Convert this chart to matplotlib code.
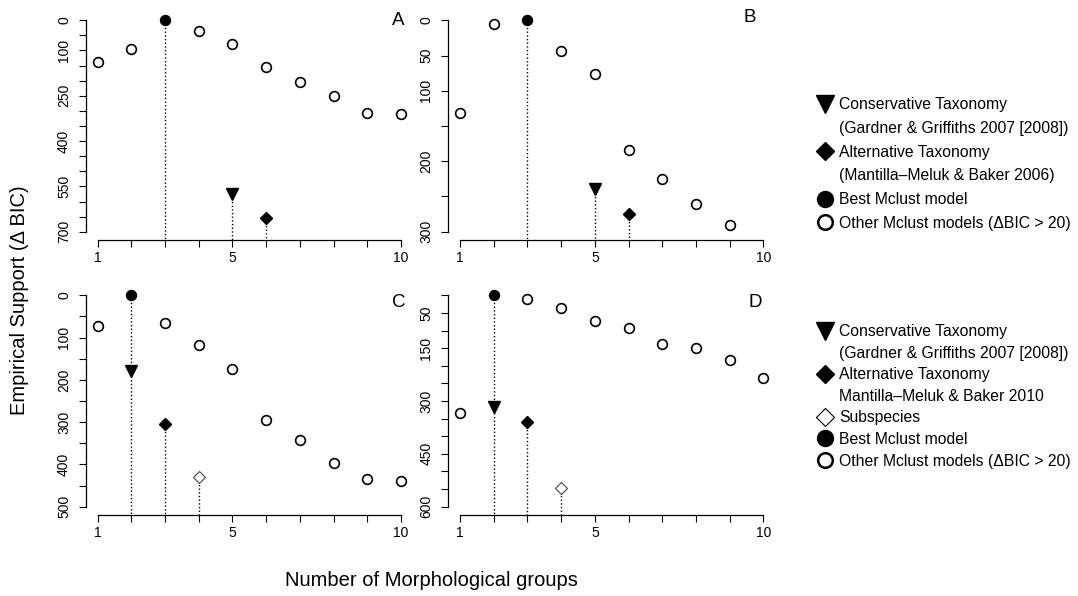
import matplotlib
matplotlib.use('Agg')
import matplotlib.pyplot as plt
from matplotlib.lines import Line2D

plt.rcParams['font.family'] = ['Liberation Sans', 'DejaVu Sans']

# x = number of morphological groups, y = delta BIC
a_other_x = [1, 2, 4, 5, 6, 7, 8, 9, 10]
a_other_y = [138, 95, 35, 79, 156, 204, 252, 307, 310]
a_best = (3, 0)
a_cons = (5, 575)
a_alt = (6, 654)

b_other_x = [1, 2, 4, 5, 6, 7, 8, 9]
b_other_y = [132, 6, 43, 76, 184, 225, 260, 290]
b_best = (3, 0)
b_cons = (5, 240)
b_alt = (6, 275)

c_other_x = [1, 3, 4, 5, 6, 7, 8, 9, 10]
c_other_y = [73, 66, 117, 175, 294, 342, 396, 434, 439]
c_best = (2, 0)
c_cons = (2, 179)
c_alt = (3, 304)
c_subsp = (4, 430)

d_other_x = [1, 3, 4, 5, 6, 7, 8, 9, 10]
d_other_y = [333, 12, 35, 72, 94, 137, 151, 185, 235]
d_best = (2, 0)
d_cons = (2, 316)
d_alt = (3, 360)
d_subsp = (4, 548)

y_max = {'A': 700, 'B': 300, 'C': 500, 'D': 600}
y_labels = {'A': [0, 100, 250, 400, 550, 700],
            'B': [0, 50, 100, 200, 300],
            'C': [0, 100, 200, 300, 400, 500],
            'D': [50, 150, 300, 450, 600]}
x_labels = [1, 5, 10]

legend_top = ['Conservative Taxonomy', '(Gardner & Griffiths 2007 [2008])',
              'Alternative Taxonomy', '(Mantilla\u2013Meluk & Baker 2006)',
              'Best Mclust model', 'Other Mclust models (\u0394BIC > 20)']
legend_bottom = ['Conservative Taxonomy', '(Gardner & Griffiths 2007 [2008])',
                 'Alternative Taxonomy', 'Mantilla\u2013Meluk & Baker 2010',
                 'Subspecies', 'Best Mclust model',
                 'Other Mclust models (\u0394BIC > 20)']

W, H = 1078, 596
fig = plt.figure(figsize=(W / 100, H / 100), dpi=100)


def px_axes(left, top, width=327.4, height=228.4):
    return fig.add_axes([left / W, 1 - (top + height) / H, width / W, height / H])


def panel(ax, name, other_x, other_y, best, cons, alt, subsp=None, letter_pos=(0.95, 0.96)):
    ymax = y_max[name]
    bottom = ymax * 1.04
    ax.set_xlim(1 - 0.36, 10 + 0.36)
    ax.set_ylim(bottom, -ymax * 0.04)

    # one dotted drop line per group count, from the highest marker down to the axis
    marked = [best, cons, alt] + ([subsp] if subsp is not None else [])
    tops = {}
    for x, y in marked:
        tops[x] = min(y, tops.get(x, y))
    for x, y in tops.items():
        ax.plot([x, x], [y, bottom], ls=':', lw=1.0, color='black', zorder=1)

    ax.plot(other_x, other_y, 'o', ms=7.0, mfc='white', mec='black', mew=1.2, zorder=3)
    ax.plot(*best, 'o', ms=7.2, color='black', zorder=3)
    ax.plot(*cons, 'v', ms=9.2, color='black', zorder=3)
    ax.plot(*alt, 'D', ms=6.0, color='black', zorder=3)
    if subsp is not None:
        ax.plot(*subsp, 'D', ms=6.6, mfc='white', mec='#444444', mew=0.8, zorder=3)

    for s in ['top', 'right']:
        ax.spines[s].set_visible(False)
    ax.spines['left'].set_bounds(0, ymax)
    ax.spines['bottom'].set_bounds(1, 10)
    for s in ['left', 'bottom']:
        ax.spines[s].set_linewidth(0.9)

    ax.set_xticks(range(1, 11))
    ax.set_xticklabels([str(v) if v in x_labels else '' for v in range(1, 11)])
    ticks = list(range(0, ymax + 1, 50))
    ax.set_yticks(ticks)
    ax.set_yticklabels([str(v) if v in y_labels[name] else '' for v in ticks],
                       rotation=90, va='center')
    ax.tick_params(axis='both', length=5, width=0.8, labelsize=10, colors='black')
    ax.tick_params(axis='x', pad=3)
    ax.tick_params(axis='y', pad=5.5)
    ax.text(letter_pos[0], letter_pos[1], name, transform=ax.transAxes,
            ha='center', va='center', fontsize=13.5)


ax_a = px_axes(85.6, 11.8)
ax_b = px_axes(448, 11.8)
ax_c = px_axes(85.6, 286.8)
ax_d = px_axes(448, 286.8)

panel(ax_a, 'A', a_other_x, a_other_y, a_best, a_cons, a_alt, letter_pos=(0.955, 0.962))
panel(ax_b, 'B', b_other_x, b_other_y, b_best, b_cons, b_alt, letter_pos=(0.922, 0.975))
panel(ax_c, 'C', c_other_x, c_other_y, c_best, c_cons, c_alt, c_subsp, letter_pos=(0.955, 0.93))
panel(ax_d, 'D', d_other_x, d_other_y, d_best, d_cons, d_alt, d_subsp, letter_pos=(0.938, 0.93))

fig.text(20 / W, 1 - 300 / H, 'Empirical Support (\u0394 BIC)', rotation=90,
         ha='center', va='center', fontsize=14.5)
fig.text(431 / W, 1 - 580 / H, 'Number of Morphological groups',
         ha='center', va='center', fontsize=14.5)

# legends: blank handles carry the second line of two-line entries
blank = Line2D([], [], ls='none', marker=None)
tri = Line2D([], [], ls='none', marker='v', ms=13.5, color='black')
dia = Line2D([], [], ls='none', marker='D', ms=9, color='black')
dot = Line2D([], [], ls='none', marker='o', ms=11.5, color='black')
ring = Line2D([], [], ls='none', marker='o', ms=10.5, mfc='white', mec='black', mew=1.8)
sub = Line2D([], [], ls='none', marker='D', ms=9, mfc='white', mec='black', mew=0.8)

common = dict(frameon=False, fontsize=11.3, handlelength=1.0, handletextpad=0.4,
              borderpad=0, borderaxespad=0, loc='upper left')
fig.legend([tri, blank, dia, blank, dot, ring], legend_top, labelspacing=0.56,
           bbox_to_anchor=(817 / W, 1 - 97 / H), **common)
fig.legend([tri, blank, dia, blank, sub, dot, ring], legend_bottom, labelspacing=0.42,
           bbox_to_anchor=(817 / W, 1 - 324 / H), **common)

fig.savefig('out.png', dpi=100)
